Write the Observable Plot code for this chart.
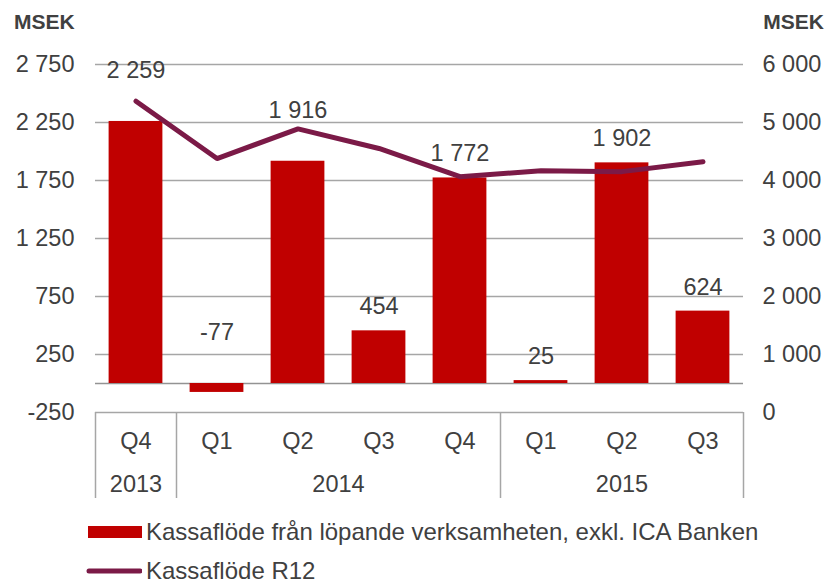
<!DOCTYPE html>
<html><head><meta charset="utf-8">
<script src="https://cdn.jsdelivr.net/npm/d3@7"></script>
<script src="https://cdn.jsdelivr.net/npm/@observablehq/plot@0.6"></script>
<style>
body{margin:0;background:#fff;}
#wrap{position:relative;width:827px;height:585px;font-family:"Liberation Sans",Arial,sans-serif;color:#404040;overflow:hidden;background:#fff}
#wrap > svg{position:absolute;left:0;top:0}
.unit{position:absolute;font-weight:bold;font-size:21px;line-height:21px;top:11px}
.leg{position:absolute;left:0;display:flex;align-items:center;font-size:24px;line-height:20px;height:20px;white-space:nowrap}
.leg svg{display:block;margin-left:85px;margin-right:4px}
</style></head><body><div id="wrap"></div>
<script>
// ---- data ----
const quarters = ["Q4", "Q1", "Q2", "Q3", "Q4", "Q1", "Q2", "Q3"];
const years = ["2013", "2014", "2014", "2014", "2014", "2015", "2015", "2015"];
const cashFlow = [2259, -77, 1916, 454, 1772, 25, 1902, 624];          // left axis, MSEK
const cashFlowR12 = [5367, 4378, 4890, 4552, 4065, 4167, 4153, 4323];  // right axis, MSEK
const leftTicks = [-250, 250, 750, 1250, 1750, 2250, 2750];
const rightTicks = [0, 1000, 2000, 3000, 4000, 5000, 6000];
const seriesNames = ["Kassaflöde från löpande verksamheten, exkl. ICA Banken", "Kassaflöde R12"];

// ---- helpers ----
const fmt = d3.formatLocale({decimal: ",", thousands: " ", grouping: [3], currency: ["", ""], minus: "-"}).format(",d");
const n = quarters.length;
const idx = d3.range(n);
// right axis 0..6000 maps onto left axis -250..2750
const toLeft = r => leftTicks[0] + r * (leftTicks[leftTicks.length - 1] - leftTicks[0]) / rightTicks[rightTicks.length - 1];
const toRight = l => (l - leftTicks[0]) * rightTicks[rightTicks.length - 1] / (leftTicks[leftTicks.length - 1] - leftTicks[0]);
const yearGroups = d3.groups(idx, i => years[i]).map(([year, is]) => ({year, center: d3.mean(is)}));
const boundaries = [-0.5, ...idx.filter(i => i > 0 && years[i] !== years[i - 1]).map(i => i - 0.5), n - 0.5];

const RED = "#c00000", LINE = "#7b1a47", TXT = "#404040", GRID = "#a6a6a6";
const FONT = '"Liberation Sans", Arial, sans-serif';
const FS = 23.5;
const W = 827, H = 510;
const lifted = new Set([0, 1, 2]); // labels moved up to clear the R12 line

const chart = Plot.plot({
  width: W, height: H,
  marginLeft: 95, marginRight: 84, marginTop: 64, marginBottom: 98,
  x: {type: "linear", domain: [-0.5, n - 0.5], axis: null},
  y: {domain: [leftTicks[0], leftTicks[leftTicks.length - 1]], axis: null},
  style: {fontFamily: FONT, fontSize: FS + "px", color: TXT, background: "#fff", overflow: "visible"},
  marks: [
    Plot.axisX({ticks: boundaries, anchor: "bottom", tickSize: 86, tickFormat: () => "", stroke: GRID, strokeWidth: 1.5, label: null}),
    Plot.ruleY(leftTicks, {stroke: GRID, strokeWidth: 1.5}),
    Plot.ruleY([0], {stroke: "#939393", strokeWidth: 1.5}),
    Plot.rectY(idx, {x1: i => i - 0.332, x2: i => i + 0.332, y1: 0, y2: i => cashFlow[i], fill: RED}),
    Plot.line(idx, {x: i => i, y: i => toLeft(cashFlowR12[i]), stroke: LINE, strokeWidth: 5, strokeLinejoin: "round", strokeLinecap: "round"}),
    Plot.text(idx.filter(i => !lifted.has(i)), {x: i => i, y: i => Math.max(0, cashFlow[i]), text: i => fmt(cashFlow[i]), dy: -24, fill: TXT, fontSize: FS}),
    Plot.text(idx.filter(i => lifted.has(i)), {x: i => i, y: i => Math.max(0, cashFlow[i]), text: i => fmt(cashFlow[i]), dy: -51, fill: TXT, fontSize: FS}),
    Plot.axisY({ticks: leftTicks, anchor: "left", tickSize: 0, tickPadding: 21, tickFormat: fmt, fontSize: FS, fill: TXT, label: null}),
    Plot.axisY({ticks: rightTicks.map(toLeft), anchor: "right", tickSize: 0, tickPadding: 19, tickFormat: d => fmt(Math.round(toRight(d))), fontSize: FS, fill: TXT, label: null}),
    Plot.text(idx, {x: i => i, text: i => quarters[i], frameAnchor: "bottom", lineAnchor: "middle", dy: 29, fill: TXT, fontSize: FS}),
    Plot.text(yearGroups, {x: "center", text: "year", frameAnchor: "bottom", lineAnchor: "middle", dy: 72, fill: TXT, fontSize: FS})
  ]
});

const wrap = document.getElementById("wrap");
wrap.appendChild(chart);

const u1 = document.createElement("div");
u1.className = "unit"; u1.textContent = "MSEK"; u1.style.left = "14px";
wrap.appendChild(u1);
const u2 = document.createElement("div");
u2.className = "unit"; u2.textContent = "MSEK"; u2.style.right = "3px";
wrap.appendChild(u2);

const leg1 = document.createElement("div");
leg1.className = "leg"; leg1.style.top = "522px";
leg1.innerHTML = `<svg width="57" height="14"><rect x="3" y="1" width="54" height="12" fill="${RED}"/></svg><span>${seriesNames[0]}</span>`;
wrap.appendChild(leg1);
const leg2 = document.createElement("div");
leg2.className = "leg"; leg2.style.top = "561px";
leg2.innerHTML = `<svg width="57" height="14"><line x1="4" y1="7" x2="55" y2="7" stroke="${LINE}" stroke-width="5" stroke-linecap="round"/></svg><span>${seriesNames[1]}</span>`;
wrap.appendChild(leg2);
</script></body></html>
